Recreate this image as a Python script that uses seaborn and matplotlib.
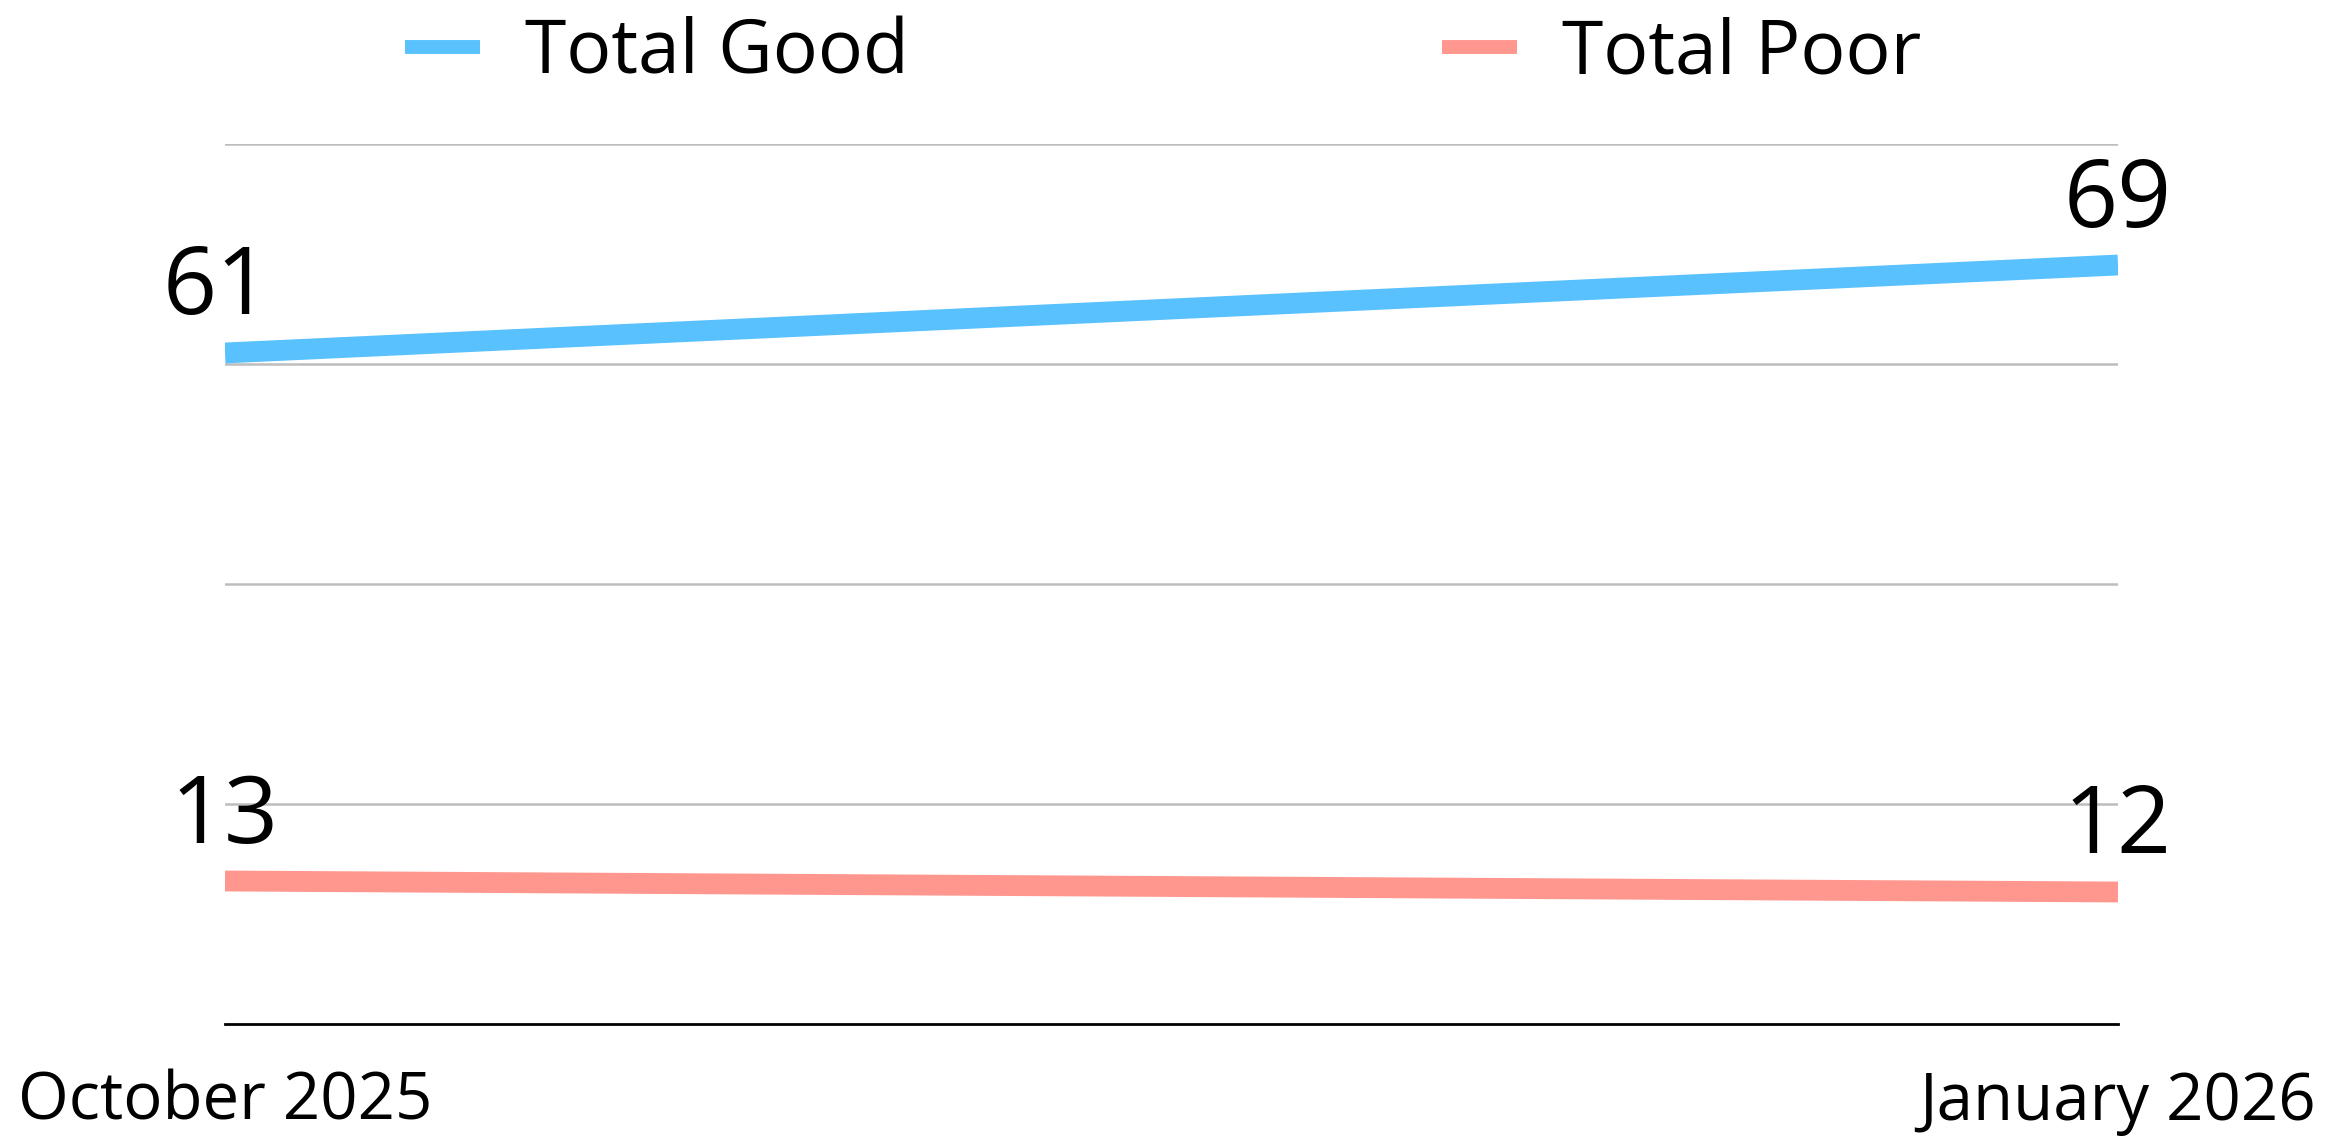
import matplotlib
matplotlib.use("Agg")
import matplotlib.pyplot as plt
import seaborn as sns
import pandas as pd
from matplotlib.lines import Line2D

periods = ["October 2025", "January 2026"]
good_values = [61, 69]
poor_values = [13, 12]
series_names = ["Total Good", "Total Poor"]
colors = ["#58C1FE", "#FF978E"]

df = pd.DataFrame({
    "period": periods * 2,
    "x": [0, 1] * 2,
    "value": good_values + poor_values,
    "series": [series_names[0]] * 2 + [series_names[1]] * 2,
})

sns.set_theme(style="white")
plt.rcParams["font.family"] = ["Open Sans", "DejaVu Sans"]
plt.rcParams["text.color"] = "black"
plt.rcParams["xtick.color"] = "black"

fig = plt.figure(figsize=(23.47, 11.40), dpi=100)
ax = fig.add_axes([225 / 2347, 1 - 1024 / 1140, (2118 - 225) / 2347, (1024 - 144) / 1140])

sns.lineplot(data=df, x="x", y="value", hue="series", palette=colors,
             linewidth=15, ax=ax, legend=False, solid_capstyle="butt")

ax.set_xlim(0, 1)
ax.set_ylim(0, 80)
ax.set_yticks([20, 40, 60, 80])
ax.yaxis.grid(True, color="#bdbdbd", linewidth=1.8)
ax.set_axisbelow(True)
ax.tick_params(axis="y", left=False, labelleft=False)
ax.set_xticks([0, 1])
ax.set_xticklabels(periods, fontsize=47, color="black")
ax.tick_params(axis="x", bottom=False, pad=27)
for s in ["top", "right", "left"]:
    ax.spines[s].set_visible(False)
ax.spines["bottom"].set_color("black")
ax.spines["bottom"].set_linewidth(2)
ax.set_xlabel("")
ax.set_ylabel("")

# value labels
offsets = {(0, 0): (-8, 39), (0, 1): (0, 38), (1, 0): (0, 38), (1, 1): (0, 39)}
for si, vals in enumerate([good_values, poor_values]):
    for xi, v in enumerate(vals):
        dx, dy = offsets[(si, xi)]
        ax.annotate(str(v), xy=(xi, v), xytext=(dx, dy), textcoords="offset pixels",
                    ha="center", va="baseline", fontsize=68, color="black",
                    annotation_clip=False)

handles = [Line2D([0], [0], color=c, linewidth=10, solid_capstyle="butt") for c in colors]
fig.legend(handles, series_names, loc="center", bbox_to_anchor=(1163 / 2347, 1 - 54 / 1140),
           ncol=2, frameon=False, fontsize=54, handlelength=1.0, handletextpad=0.6,
           columnspacing=7.1, borderpad=0, labelcolor="black")

fig.savefig("out.png", dpi=100, facecolor="white")
